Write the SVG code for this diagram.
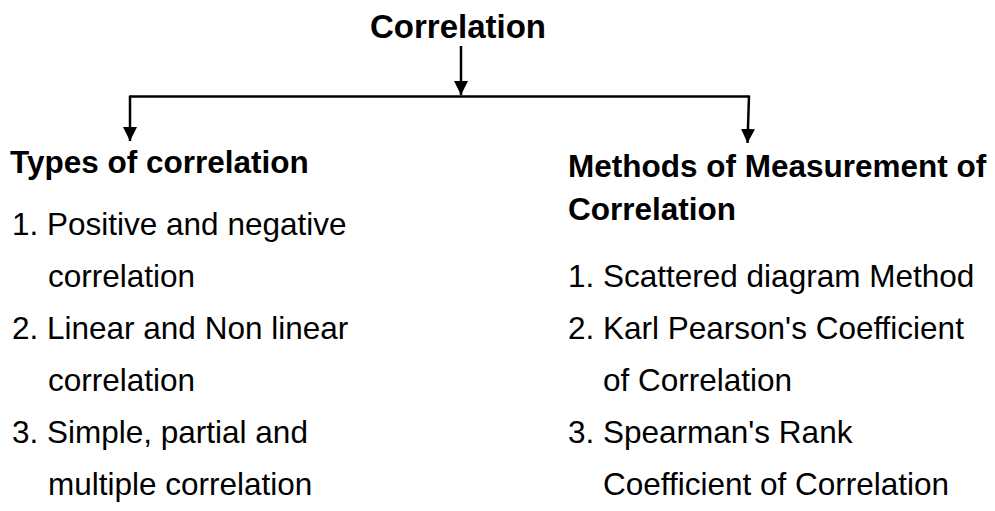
<svg xmlns="http://www.w3.org/2000/svg" width="995" height="511" viewBox="0 0 995 511">
<style>
.t{font-family:"Liberation Sans",Arial,sans-serif;fill:#000}
.title{font-size:33px;font-weight:bold}
.h{font-size:31.5px;font-weight:bold}
.b{font-size:31.5px}
.c{fill:none;stroke:#000;stroke-width:2.5}
</style>
<defs>
<marker id="ah" markerUnits="userSpaceOnUse" markerWidth="14" markerHeight="14" refX="14" refY="7" orient="auto" viewBox="0 0 14 14">
<path d="M0,0 L14,7 L0,14 z" fill="#000"/>
</marker>
</defs>
<rect width="995" height="511" fill="#fff"/>
<g id="connectors">
<line class="c" x1="461" y1="46" x2="461" y2="95" marker-end="url(#ah)"/>
<polyline class="c" points="130,96.5 749,96.5"/>
<line class="c" x1="130" y1="95.5" x2="130" y2="141" marker-end="url(#ah)"/>
<line class="c" x1="749" y1="95.5" x2="747.5" y2="143" marker-end="url(#ah)"/>
</g>
<g id="root">
<text class="t title" x="458" y="38" text-anchor="middle">Correlation</text>
</g>
<g id="types">
<text class="t h" x="10" y="173">Types of correlation</text>
<text class="t b" x="12" y="235">1. Positive and negative</text>
<text class="t b" x="48" y="287">correlation</text>
<text class="t b" x="12" y="339">2. Linear and Non linear</text>
<text class="t b" x="48" y="391">correlation</text>
<text class="t b" x="12" y="443">3. Simple, partial and</text>
<text class="t b" x="48" y="495">multiple correlation</text>
</g>
<g id="methods">
<text class="t h" x="568" y="177">Methods of Measurement of</text>
<text class="t h" x="568" y="220">Correlation</text>
<text class="t b" x="568" y="287">1. Scattered diagram Method</text>
<text class="t b" x="568" y="339">2. Karl Pearson's Coefficient</text>
<text class="t b" x="603" y="391">of Correlation</text>
<text class="t b" x="568" y="443">3. Spearman's Rank</text>
<text class="t b" x="603" y="495">Coefficient of Correlation</text>
</g>
</svg>
